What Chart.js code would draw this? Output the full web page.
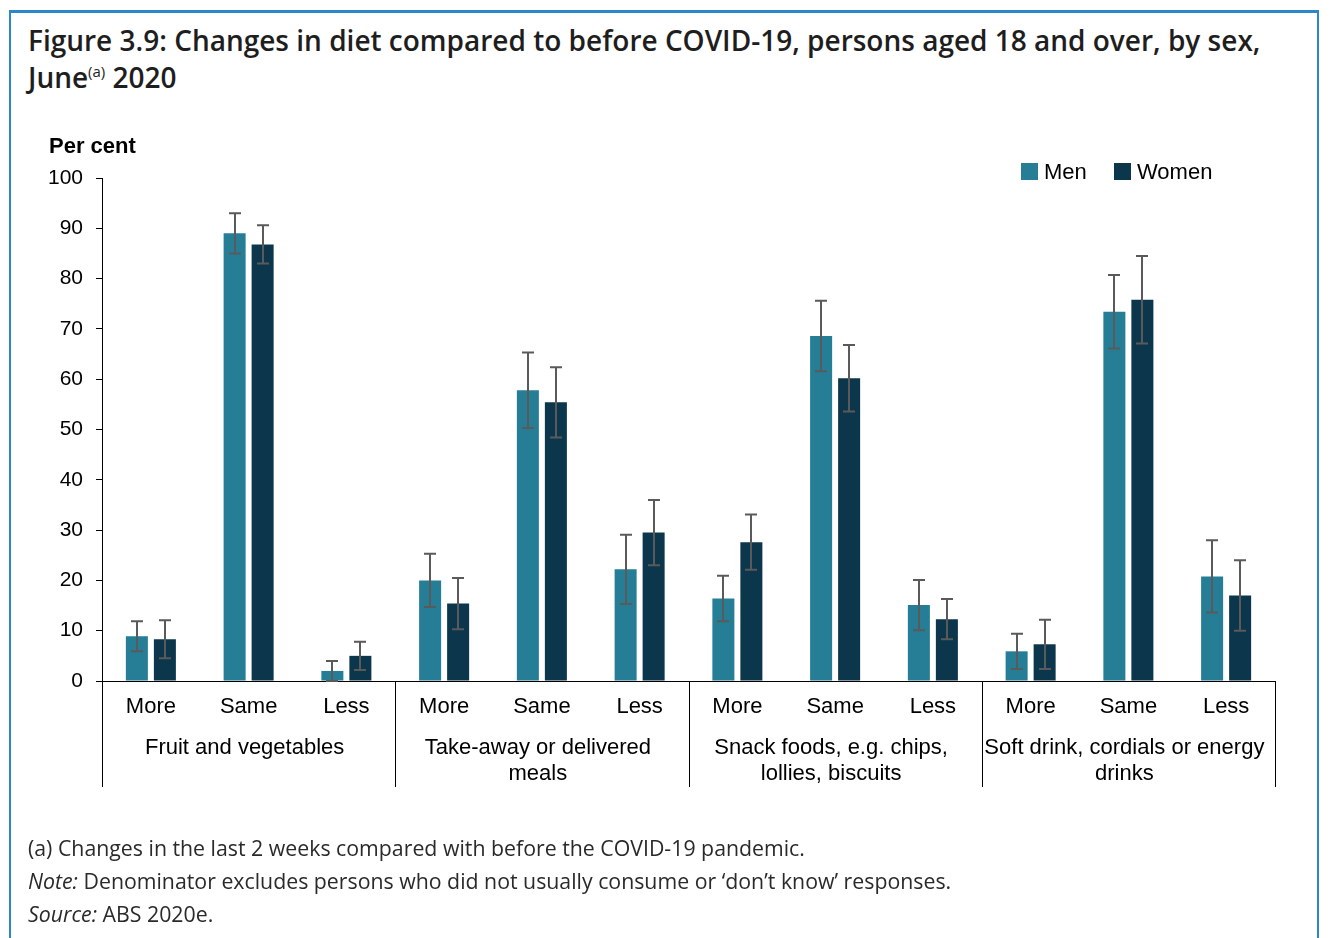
<!DOCTYPE html>
<html>
<head>
<meta charset="utf-8">
<script src="https://cdn.jsdelivr.net/npm/chart.js@4.4.1/dist/chart.umd.min.js"></script>
<style>
  html, body { margin: 0; padding: 0; background: #fff; }
  body { width: 1330px; height: 938px; position: relative; overflow: hidden; }
  #frame {
    position: absolute; left: 9px; top: 10px; width: 1306px; height: 960px;
    border: 2px solid #2b87c7; border-top-width: 3px;
  }
  #title {
    position: absolute; left: 28px; top: 22px; width: 1290px;
    font-family: "Open Sans", sans-serif; font-weight: 600; font-size: 28px;
    line-height: 37px; color: #1e1e1e;
  }
  #title sup { font-size: 15px; font-weight: 400; vertical-align: 0; position: relative; top: -11px; }
  #notes {
    position: absolute; left: 28px; top: 831px; width: 1280px;
    font-family: "Open Sans", sans-serif; font-size: 21.3px; line-height: 33px; color: #2a2a2a;
  }
  #wrap { position: absolute; left: 0; top: 0; width: 1330px; height: 938px; }
</style>
</head>
<body>
<div id="frame"></div>
<div id="title">Figure 3.9: Changes in diet compared to before COVID-19, persons aged 18 and over, by sex,<br>June<sup>(a)</sup> 2020</div>
<div id="wrap"><canvas id="chart" width="1330" height="938"></canvas></div>
<div id="notes">
  <div>(a) Changes in the last 2 weeks compared with before the COVID-19 pandemic.</div>
  <div><i>Note:</i> Denominator excludes persons who did not usually consume or ‘don’t know’ responses.</div>
  <div><i>Source:</i> ABS 2020e.</div>
</div>
<script>
// Response categories within each food group
const changeLabels = ['More', 'Same', 'Less', 'More', 'Same', 'Less', 'More', 'Same', 'Less', 'More', 'Same', 'Less'];
// Food groups (each spans three response categories), split into lines
const groupLabels = [
  ['Fruit and vegetables'],
  ['Take-away or delivered', 'meals'],
  ['Snack foods, e.g. chips,', 'lollies, biscuits'],
  ['Soft drink, cordials or energy', 'drinks']
];
const seriesNames = ['Men', 'Women'];

// Per cent of persons
const menValues   = [8.9, 89.0, 2.0, 20.0, 57.8, 22.2, 16.4, 68.6, 15.1, 5.9, 73.4, 20.8];
const womenValues = [8.3, 86.8, 5.0, 15.4, 55.4, 29.5, 27.6, 60.2, 12.3, 7.3, 75.8, 17.0];
// 95% margins of error (percentage points)
const menMoE   = [3.0, 4.0, 2.0, 5.3, 7.5, 6.9, 4.5, 7.0, 5.0, 3.5, 7.3, 7.2];
const womenMoE = [3.8, 3.8, 2.8, 5.1, 7.0, 6.5, 5.5, 6.6, 4.0, 4.9, 8.7, 7.0];

const yTicks = [0, 10, 20, 30, 40, 50, 60, 70, 80, 90, 100];

const FONT = '"Liberation Sans", Arial, sans-serif';

// Error bars drawn from each bar's value and margin of error
const errorBars = {
  id: 'errorBars',
  afterDatasetsDraw(chart) {
    const ctx = chart.ctx;
    const y = chart.scales.y;
    ctx.save();
    ctx.strokeStyle = '#5a5a5a';
    ctx.lineWidth = 2;
    chart.data.datasets.forEach((ds, di) => {
      const meta = chart.getDatasetMeta(di);
      meta.data.forEach((bar, i) => {
        const v = ds.data[i], m = ds.moe[i];
        const top = y.getPixelForValue(v + m);
        const bot = y.getPixelForValue(Math.max(0, v - m));
        const cx = Math.round(bar.x);
        ctx.beginPath();
        ctx.moveTo(cx, top); ctx.lineTo(cx, bot);
        ctx.moveTo(cx - 6, top); ctx.lineTo(cx + 6, top);
        ctx.moveTo(cx - 6, bot); ctx.lineTo(cx + 6, bot);
        ctx.stroke();
      });
    });
    ctx.restore();
  }
};

// Group dividers, group names, axis title and legend
const decorations = {
  id: 'decorations',
  afterDraw(chart) {
    const ctx = chart.ctx;
    const area = chart.chartArea;
    const x = chart.scales.x;
    const catW = (area.right - area.left) / changeLabels.length;
    const bottom = area.bottom + 106;
    ctx.save();
    ctx.strokeStyle = '#000';
    ctx.lineWidth = 1;
    for (let g = 0; g <= groupLabels.length; g++) {
      const gx = Math.round(area.left + g * 3 * catW) + 0.5;
      ctx.beginPath();
      ctx.moveTo(gx, area.bottom);
      ctx.lineTo(gx, bottom);
      ctx.stroke();
    }
    ctx.fillStyle = '#000';
    ctx.font = '22px ' + FONT;
    ctx.textAlign = 'center';
    ctx.textBaseline = 'middle';
    groupLabels.forEach((lines, g) => {
      const cx = x.getPixelForValue(g * 3 + 1) - 4;
      lines.forEach((line, li) => {
        ctx.fillText(line, cx, area.bottom + 67 + li * 26);
      });
    });
    // axis title
    ctx.font = 'bold 22px ' + FONT;
    ctx.textAlign = 'left';
    ctx.textBaseline = 'alphabetic';
    ctx.fillText('Per cent', 49, 153);
    // legend
    ctx.font = '22px ' + FONT;
    ctx.textBaseline = 'middle';
    const legendX = [1021, 1114];
    chart.data.datasets.forEach((ds, di) => {
      ctx.fillStyle = ds.backgroundColor;
      ctx.fillRect(legendX[di], 163, 17, 17);
      ctx.fillStyle = '#000';
      ctx.fillText(ds.label, legendX[di] + 23, 173);
    });
    ctx.restore();
  }
};

new Chart(document.getElementById('chart'), {
  type: 'bar',
  data: {
    labels: changeLabels,
    datasets: [
      { label: seriesNames[0], data: menValues, moe: menMoE, backgroundColor: '#257e96' },
      { label: seriesNames[1], data: womenValues, moe: womenMoE, backgroundColor: '#0b364b' }
    ]
  },
  options: {
    responsive: false,
    animation: false,
    categoryPercentage: 0.573,
    barPercentage: 0.786,
    layout: { padding: { left: 42, top: 178, right: 55, bottom: 151 } },
    plugins: { legend: { display: false }, tooltip: { enabled: false } },
    scales: {
      x: {
        grid: { display: false, drawTicks: false },
        border: { display: true, color: '#000', width: 1 },
        ticks: { color: '#000', font: { family: FONT, size: 22 }, padding: 13, maxRotation: 0, autoSkip: false },
        afterFit(scale) { scale.height = 106; }
      },
      y: {
        min: 0, max: 100,
        afterBuildTicks(scale) { scale.ticks = yTicks.map(v => ({ value: v })); },
        grid: { drawOnChartArea: false, drawTicks: true, tickLength: 6, color: '#000' },
        border: { display: true, color: '#000', width: 1 },
        ticks: { color: '#000', font: { family: FONT, size: 21 }, padding: 13 },
        afterFit(scale) { scale.width = 60; }
      }
    }
  },
  plugins: [errorBars, decorations]
});
</script>
</body>
</html>
